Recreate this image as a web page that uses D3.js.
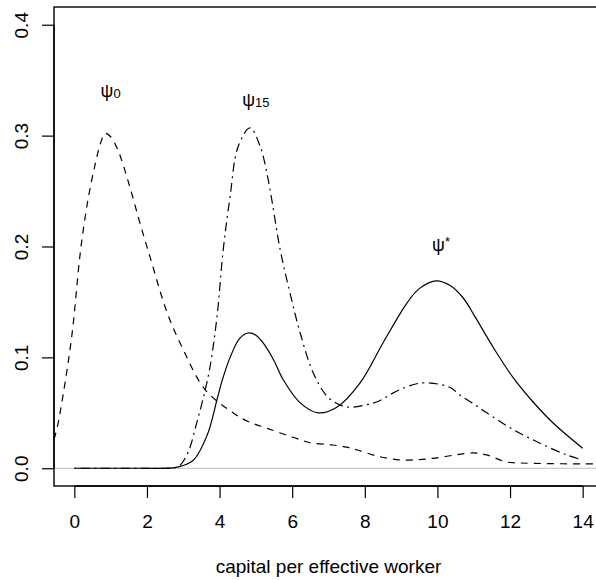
<!DOCTYPE html>
<html>
<head>
<meta charset="utf-8">
<script src="https://cdn.jsdelivr.net/npm/d3@7/dist/d3.min.js"></script>
<style>
  html, body { margin: 0; padding: 0; background: #fff; }
  svg text { font-family: "Liberation Sans", Arial, Helvetica, sans-serif; fill: #000; }
</style>
</head>
<body>
<svg id="chart" width="596" height="580"></svg>
<script>
// Cross-section density of capital per effective worker: initial (psi_0),
// after 15 periods (psi_15) and the stationary distribution (psi*).

// psi_0 — dashed
const psi0X = [-0.56, -0.47, -0.3, -0.06, 0.17, 0.38, 0.58, 0.72, 0.85, 1.0, 1.2, 1.49, 1.8, 2.09, 2.56, 3.0, 3.6, 4.37, 4.8, 5.31, 6.02, 6.5, 7.12, 7.5, 7.79, 8.34, 8.97, 9.5, 9.88, 10.5, 10.98, 11.36, 11.9, 12.27, 13.0, 14.0, 14.56];
const psi0Y = [0.026, 0.037, 0.068, 0.122, 0.196, 0.243, 0.275, 0.293, 0.302, 0.299, 0.287, 0.258, 0.222, 0.190, 0.140, 0.107, 0.071, 0.050, 0.042, 0.036, 0.028, 0.023, 0.021, 0.019, 0.0165, 0.011, 0.0075, 0.0078, 0.009, 0.012, 0.0138, 0.012, 0.0057, 0.0048, 0.0042, 0.004, 0.004];

// psi_15 — dot-dash
const psi15X = [0, 1, 2, 2.5, 2.73, 2.92, 3.14, 3.38, 3.6, 3.74, 3.93, 4.1, 4.29, 4.51, 4.84, 5.12, 5.34, 5.67, 5.94, 6.22, 6.58, 6.96, 7.32, 7.6, 8.0, 8.34, 8.97, 9.6, 10.34, 10.62, 11.0, 11.36, 12.08, 12.8, 13.56, 14.0];
const psi15Y = [0, 0, 0, 0, 0, 0.003, 0.015, 0.042, 0.07, 0.092, 0.137, 0.197, 0.245, 0.29, 0.307, 0.29, 0.26, 0.197, 0.158, 0.122, 0.086, 0.065, 0.057, 0.055, 0.057, 0.060, 0.071, 0.077, 0.073, 0.066, 0.058, 0.050, 0.035, 0.023, 0.012, 0.0075];

// psi* — solid
const psiStarX = [0, 1, 2, 2.5, 2.83, 3.27, 3.66, 3.93, 4.07, 4.29, 4.55, 4.79, 5.0, 5.2, 5.5, 5.75, 6.22, 6.71, 7.23, 7.87, 8.5, 9.16, 9.5, 9.95, 10.34, 10.7, 11.03, 11.5, 12.08, 12.63, 13.18, 14.0];
const psiStarY = [0, 0, 0, 0, 0.001, 0.007, 0.03, 0.062, 0.079, 0.10, 0.117, 0.122, 0.12, 0.113, 0.097, 0.080, 0.059, 0.050, 0.055, 0.077, 0.113, 0.149, 0.162, 0.169, 0.165, 0.154, 0.137, 0.111, 0.082, 0.060, 0.041, 0.018];

// axis ticks and curve labels
const xTicks = [0, 2, 4, 6, 8, 10, 12, 14];
const yTicks = [0.0, 0.1, 0.2, 0.3, 0.4];
const labelNames = ["0", "15", "*"];
const labelX = [1.0, 5.0, 10.1];
const labelY = [0.338, 0.33, 0.2];

const svg = d3.select("#chart");
const plotLeft = 54, plotRight = 603, plotTop = 7, plotBottom = 486;
const fontSize = 19;

const x = d3.scaleLinear().domain([-0.56, 14.56]).range([plotLeft, plotRight]);
const y = d3.scaleLinear().domain([-0.016, 0.416]).range([plotBottom, plotTop]);

svg.append("defs").append("clipPath").attr("id", "plotClip")
  .append("rect").attr("x", plotLeft).attr("y", plotTop)
  .attr("width", plotRight - plotLeft).attr("height", plotBottom - plotTop);

const plot = svg.append("g").attr("clip-path", "url(#plotClip)");

// zero reference line
plot.append("line")
  .attr("x1", plotLeft).attr("x2", plotRight)
  .attr("y1", y(0)).attr("y2", y(0))
  .attr("stroke", "#bebebe").attr("stroke-width", 1.2);

const line = d3.line()
  .x(d => x(d[0])).y(d => Math.min(y(d[1]), y(0)))
  .curve(d3.curveCatmullRom.alpha(0.5));

const series = [
  { xs: psi0X, ys: psi0Y, dash: "7,6" },
  { xs: psi15X, ys: psi15Y, dash: "2,4.5,9,4.5" },
  { xs: psiStarX, ys: psiStarY, dash: null }
];

series.forEach(s => {
  plot.append("path")
    .datum(d3.zip(s.xs, s.ys))
    .attr("d", line)
    .attr("fill", "none")
    .attr("stroke", "#000")
    .attr("stroke-width", 1.2)
    .attr("stroke-dasharray", s.dash);
});

// frame
svg.append("rect")
  .attr("x", plotLeft).attr("y", plotTop)
  .attr("width", plotRight - plotLeft).attr("height", plotBottom - plotTop)
  .attr("fill", "none").attr("stroke", "#000").attr("stroke-width", 1.4);

// x axis
const xAxis = d3.axisBottom(x).tickValues(xTicks).tickSize(12)
  .tickFormat(d3.format("d"));
const gx = svg.append("g").attr("transform", `translate(0,${plotBottom})`).call(xAxis);
gx.select(".domain").attr("d", `M${x(xTicks[0])},0H${x(xTicks[xTicks.length - 1])}`)
  .attr("stroke", "#000").attr("stroke-width", 1.4);
gx.selectAll(".tick line").attr("stroke", "#000").attr("stroke-width", 1.2);
gx.selectAll(".tick text").attr("font-size", fontSize).attr("font-family", null)
  .attr("dy", null).attr("y", 42);

// y axis
const yAxis = d3.axisLeft(y).tickValues(yTicks).tickSize(12)
  .tickFormat(d3.format(".1f"));
const gy = svg.append("g").attr("transform", `translate(${plotLeft},0)`).call(yAxis);
gy.select(".domain").attr("d", `M0,${y(yTicks[0])}V${y(yTicks[yTicks.length - 1])}`)
  .attr("stroke", "#000").attr("stroke-width", 1.4);
gy.selectAll(".tick line").attr("stroke", "#000").attr("stroke-width", 1.2);
gy.selectAll(".tick text")
  .attr("font-size", fontSize).attr("font-family", null)
  .attr("x", null).attr("dy", null)
  .attr("text-anchor", "middle")
  .attr("transform", "translate(-26.5,0) rotate(-90)");

// axis title
svg.append("text")
  .attr("x", (plotLeft + plotRight) / 2).attr("y", 573)
  .attr("text-anchor", "middle").attr("font-size", fontSize)
  .text("capital per effective worker");

// curve labels
labelNames.forEach((name, i) => {
  const t = svg.append("text")
    .attr("x", x(labelX[i])).attr("y", y(labelY[i]) + 4)
    .attr("text-anchor", "middle").attr("font-size", 18);
  t.append("tspan").text("ψ");
  if (name === "*") {
    t.append("tspan").attr("font-size", 13).attr("dy", -5).text(name);
  } else {
    t.append("tspan").attr("font-size", 13).attr("dy", 1).text(name);
  }
});
</script>
</body>
</html>
